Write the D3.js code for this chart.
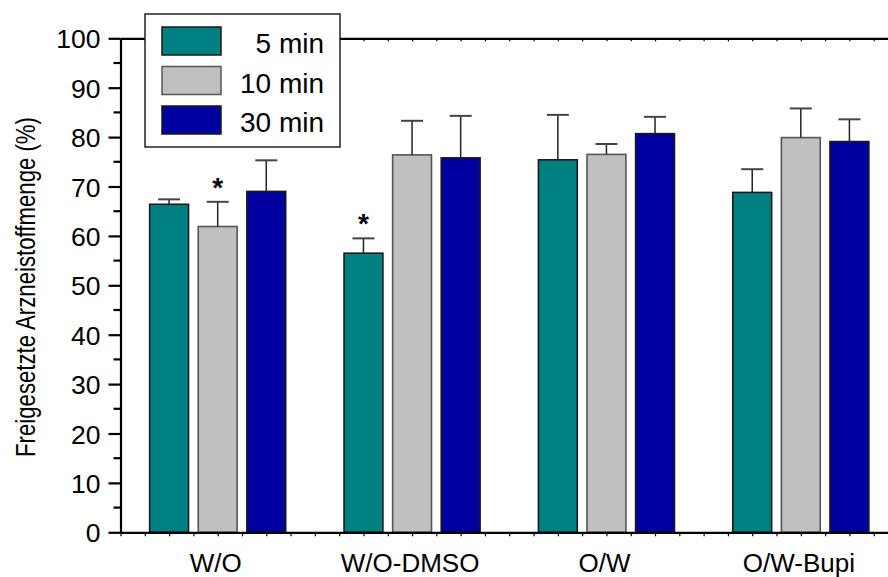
<!DOCTYPE html>
<html lang="de">
<head>
<meta charset="UTF-8">
<title>Freigesetzte Arzneistoffmenge</title>
<script src="https://d3js.org/d3.v7.min.js"></script>
<style>
  body { margin: 0; background: #fff; }
  svg { display: block; font-family: "Liberation Sans", Arial, sans-serif; }
  .tick-label { font-size: 26.5px; fill: #000; }
  .cat-label { font-size: 26px; fill: #000; }
  .legend-text { font-size: 28px; fill: #000; }
</style>
</head>
<body>
<svg width="888" height="577"></svg>
<script>
// data
const categories = ["W/O", "W/O-DMSO", "O/W", "O/W-Bupi"];
const seriesNames = ["5 min", "10 min", "30 min"];
const means5 = [66.4, 56.5, 75.4, 68.8];
const means10 = [61.9, 76.4, 76.5, 79.9];
const means30 = [69.0, 75.8, 80.7, 79.1];
const err5 = [1.0, 3.0, 9.1, 4.7];
const err10 = [5.0, 6.9, 2.1, 5.9];
const err30 = [6.3, 8.5, 3.4, 4.5];
const yTicks = [0, 10, 20, 30, 40, 50, 60, 70, 80, 90, 100];
// significance marks: [category index, series index]
const stars = [[0, 1], [1, 0]];

const colors = ["#008080", "#c0c0c0", "#0000a0"];
const outlines = ["#1a1a1a", "#555555", "#1a1a1a"];

const svg = d3.select("svg");

// x is numeric: group i sits at i+1, bars offset by a quarter unit
const x = d3.scaleLinear().domain([0.5, 4.5]).range([120.5, 898]);
const y = d3.scaleLinear().domain([0, 100]).range([532.3, 38.3]);
const barW = x(0.7) - x(0.5);
const offsets = [-0.25, 0, 0.25];

const means = [means5, means10, means30];
const errs = [err5, err10, err30];
const bars = [];
seriesNames.forEach((s, si) => {
  categories.forEach((c, ci) => {
    bars.push({ si, ci, pos: ci + 1 + offsets[si], v: means[si][ci], e: errs[si][ci] });
  });
});

// bars
svg.append("g").selectAll("rect")
  .data(bars)
  .enter().append("rect")
  .attr("x", d => x(d.pos) - barW / 2)
  .attr("y", d => y(d.v))
  .attr("width", barW)
  .attr("height", d => y(0) - y(d.v))
  .attr("fill", d => colors[d.si])
  .attr("stroke", d => outlines[d.si])
  .attr("stroke-width", 1.6);

// upper error bars
const eb = svg.append("g");
eb.selectAll("line.stem")
  .data(bars)
  .enter().append("line")
  .attr("class", "stem")
  .attr("x1", d => x(d.pos)).attr("x2", d => x(d.pos))
  .attr("y1", d => y(d.v)).attr("y2", d => y(d.v + d.e))
  .attr("stroke", "#222").attr("stroke-width", 1.5);
eb.selectAll("line.cap")
  .data(bars)
  .enter().append("line")
  .attr("class", "cap")
  .attr("x1", d => x(d.pos) - 11).attr("x2", d => x(d.pos) + 11)
  .attr("y1", d => y(d.v + d.e)).attr("y2", d => y(d.v + d.e))
  .attr("stroke", "#444").attr("stroke-width", 2);

// asterisks
svg.append("g").selectAll("text")
  .data(stars.map(([ci, si]) => bars.find(b => b.ci === ci && b.si === si)))
  .enter().append("text")
  .attr("x", d => x(d.pos))
  .attr("y", d => y(d.v + d.e) - 5)
  .attr("text-anchor", "middle")
  .attr("font-size", 28)
  .attr("font-weight", "bold")
  .text("*");

// left axis
const leftAxis = svg.append("g").attr("transform", `translate(${x(0.5)},0)`);
leftAxis.call(d3.axisLeft(y).tickValues(yTicks).tickSize(12).tickPadding(8).tickSizeOuter(0));
leftAxis.select(".domain").attr("stroke-width", 2.2);
leftAxis.selectAll(".tick line").attr("stroke-width", 2.2);
leftAxis.selectAll(".tick text").attr("class", "tick-label").attr("dy", "0.36em");
leftAxis.append("g").selectAll("line")
  .data(d3.range(5, 100, 10))
  .enter().append("line")
  .attr("x1", -7).attr("x2", 0)
  .attr("y1", d => y(d)).attr("y2", d => y(d))
  .attr("stroke", "#000").attr("stroke-width", 2.2);

// bottom and top axes with minor ticks every 1/8 unit
const minorX = d3.range(0.5, 4.51, 0.125);
const bottomAxis = svg.append("g").attr("transform", `translate(0,${y(0)})`);
bottomAxis.call(d3.axisBottom(x).tickValues(minorX).tickSize(4).tickFormat("").tickSizeOuter(0));
bottomAxis.select(".domain").attr("stroke-width", 2.2);
bottomAxis.selectAll(".tick line").attr("stroke-width", 1.2);

const topAxis = svg.append("g").attr("transform", `translate(0,${y(100)})`);
topAxis.call(d3.axisBottom(x).tickValues(minorX).tickSize(3).tickFormat("").tickSizeOuter(0));
topAxis.select(".domain").attr("stroke-width", 2.2);
topAxis.selectAll(".tick line").attr("stroke-width", 1.2);

// category labels
svg.append("g").selectAll("text")
  .data(categories)
  .enter().append("text")
  .attr("class", "cat-label")
  .attr("x", (d, i) => x(i + 1) - 2)
  .attr("y", 572)
  .attr("text-anchor", "middle")
  .text(d => d);

// y axis title
svg.append("text")
  .attr("transform", "translate(35,287) rotate(-90)")
  .attr("text-anchor", "middle")
  .attr("font-size", 27)
  .attr("textLength", 340)
  .attr("lengthAdjust", "spacingAndGlyphs")
  .text("Freigesetzte Arzneistoffmenge (%)");

// legend
const lg = svg.append("g");
lg.append("rect")
  .attr("x", 145).attr("y", 14).attr("width", 195).attr("height", 133)
  .attr("fill", "#fff").attr("stroke", "#222").attr("stroke-width", 1.5);
const rows = lg.selectAll("g.row")
  .data(seriesNames)
  .enter().append("g")
  .attr("class", "row")
  .attr("transform", (d, i) => `translate(0,${i * 39.5})`);
rows.append("rect")
  .attr("x", 162).attr("y", 27).attr("width", 59).attr("height", 28)
  .attr("fill", (d, i) => colors[i])
  .attr("stroke", (d, i) => outlines[i])
  .attr("stroke-width", 1.5);
rows.append("text")
  .attr("class", "legend-text")
  .attr("x", 324).attr("y", 53)
  .attr("text-anchor", "end")
  .text(d => d);
</script>
</body>
</html>
